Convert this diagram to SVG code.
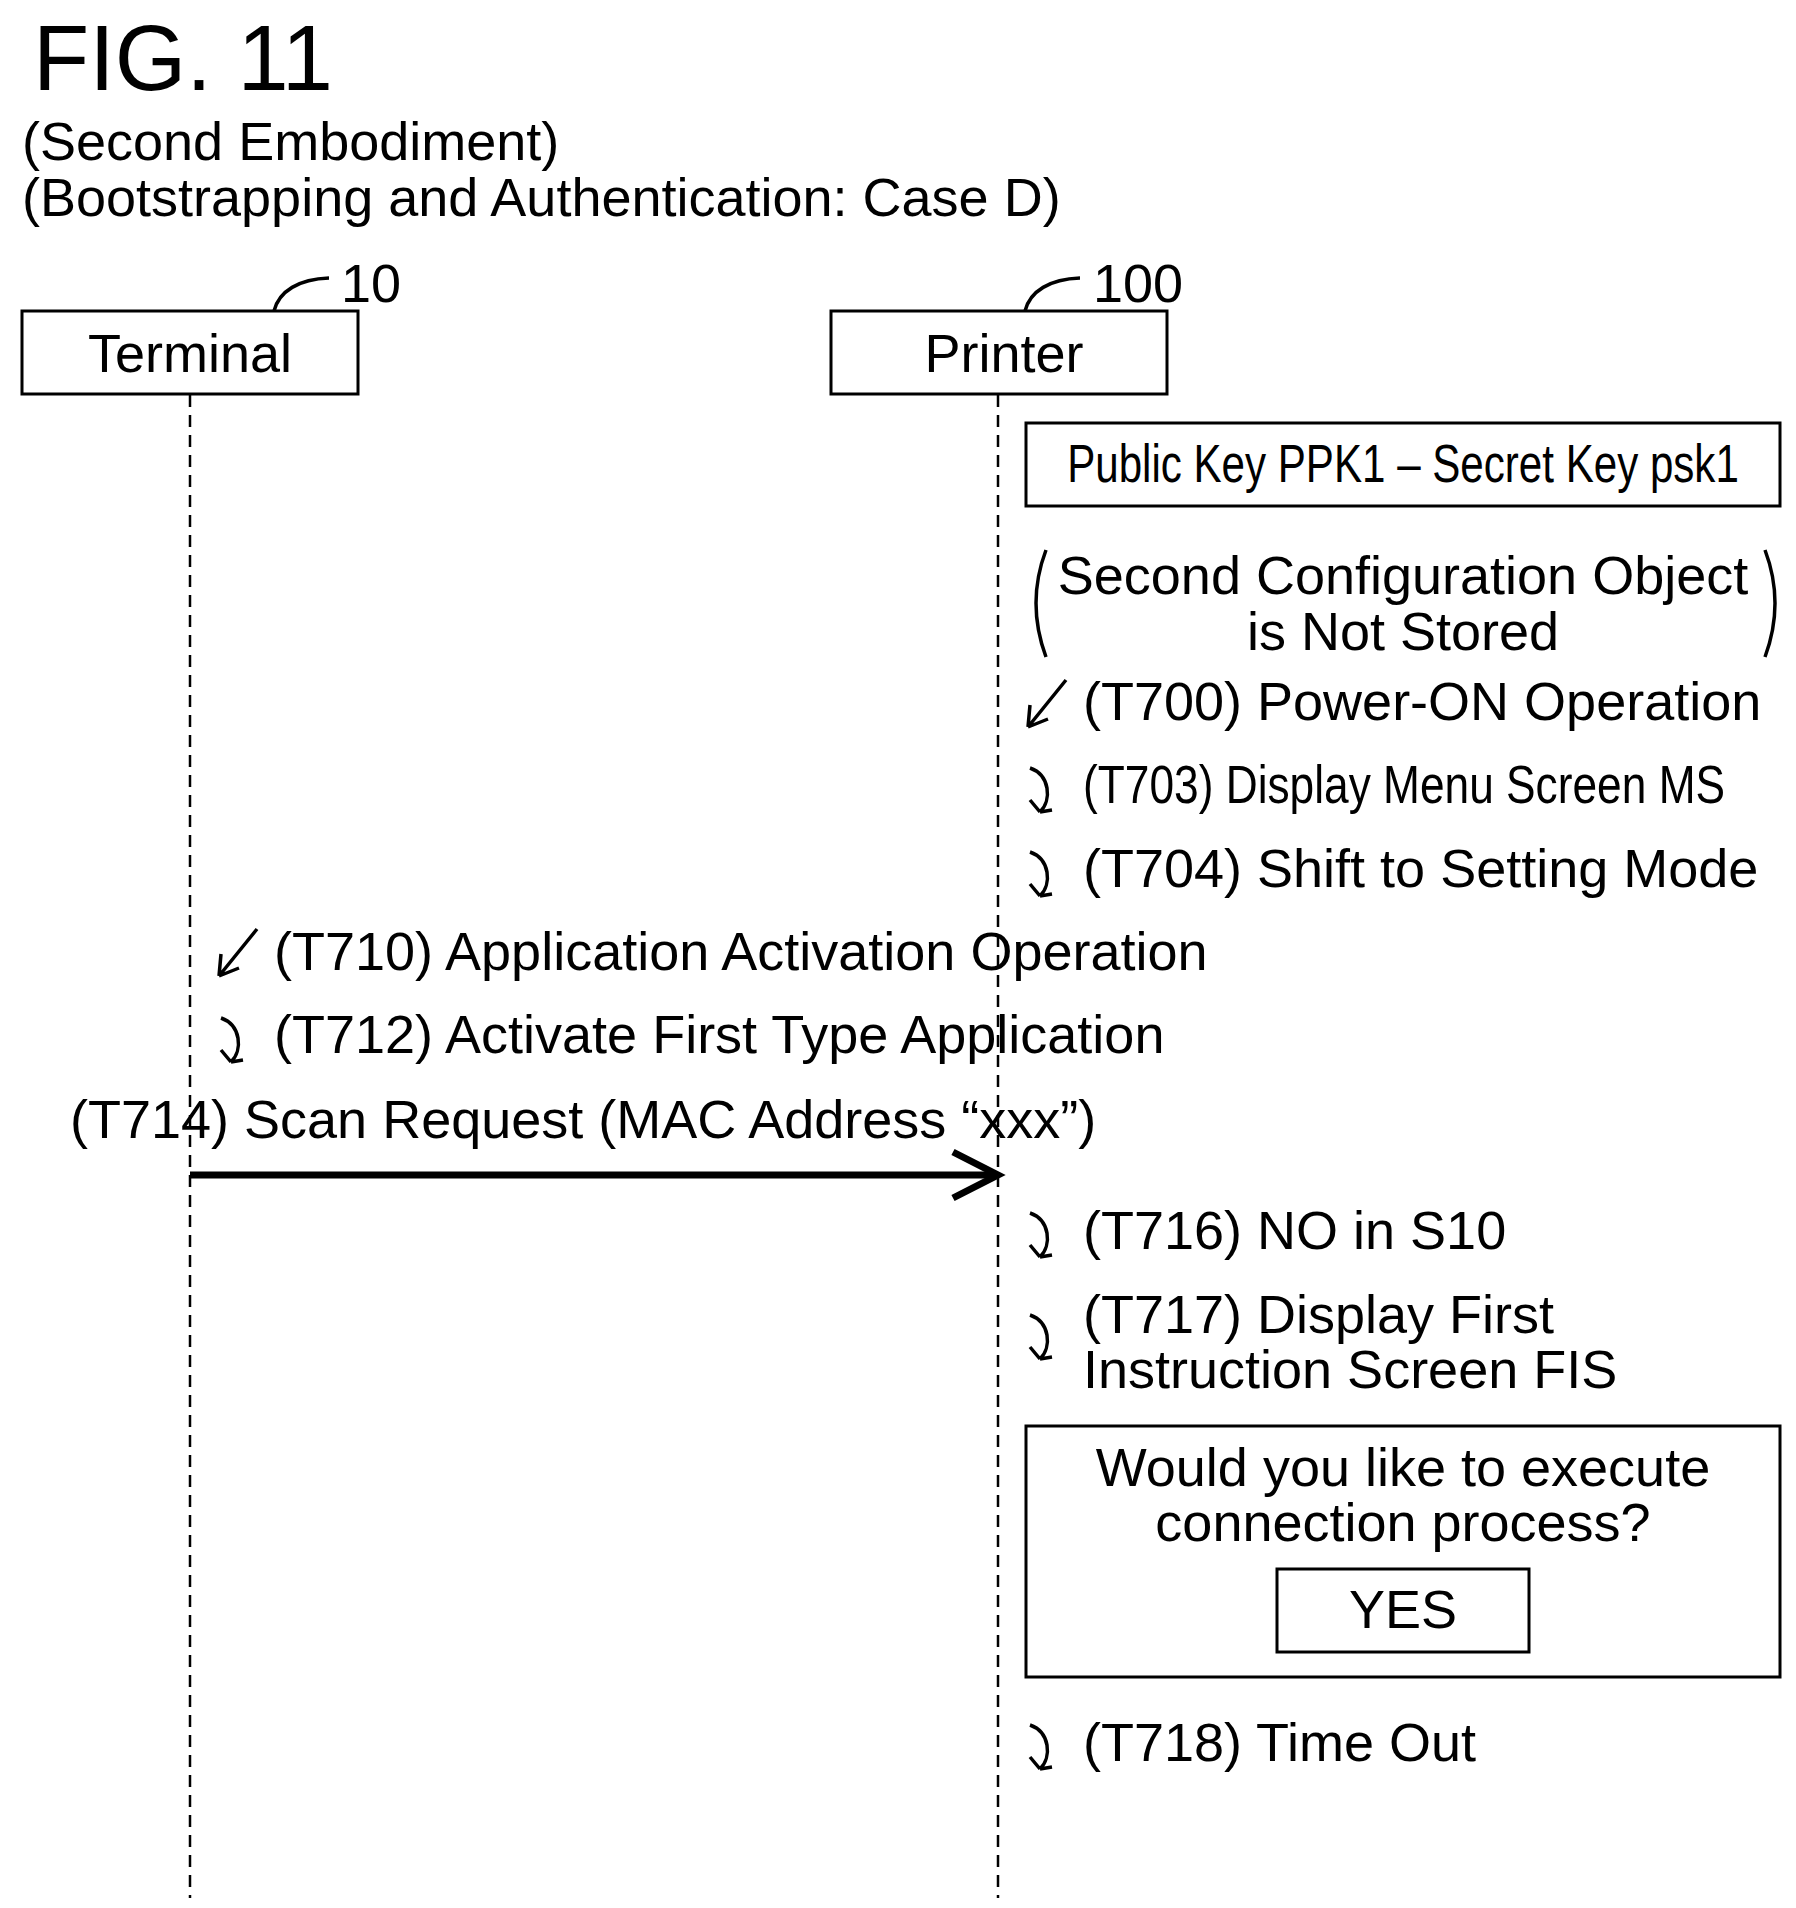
<svg xmlns="http://www.w3.org/2000/svg" width="1796" height="1908" viewBox="0 0 1796 1908">
<style>
text{font-family:"Liberation Sans",Arial,sans-serif;fill:#000}
.t{font-size:54px}
.box{fill:#fff;stroke:#000;stroke-width:3}
.life{stroke:#000;stroke-width:2.5;stroke-dasharray:12,8;fill:none}
.ln{stroke:#000;stroke-width:3.5;fill:none}
</style>
<rect width="1796" height="1908" fill="#fff"/>
<text x="33" y="90" font-size="92">FIG. 11</text>
<text x="22" y="160" class="t" font-size="55">(Second Embodiment)</text>
<text x="22" y="216" class="t" font-size="55">(Bootstrapping and Authentication: Case D)</text>
<g id="lifelines">
<line class="life" x1="190" y1="395" x2="190" y2="1898"/>
<line class="life" x1="998" y1="395" x2="998" y2="1898"/>
</g>
<g id="terminal">
<rect class="box" x="22" y="311" width="336" height="83"/>
<text x="190" y="372" class="t" text-anchor="middle">Terminal</text>
<path class="ln" stroke-width="2" d="M274,311 C279,291 299,279 329,278"/>
<text x="341" y="302" class="t">10</text>
</g>
<g id="printer">
<rect class="box" x="831" y="311" width="336" height="83"/>
<text x="1004" y="372" class="t" text-anchor="middle">Printer</text>
<path class="ln" stroke-width="2" d="M1025,311 C1030,291 1050,279 1080,278"/>
<text x="1093" y="302" class="t">100</text>
</g>
<g id="keys">
<rect class="box" x="1026" y="423" width="754" height="83"/>
<text transform="translate(1403,482) scale(0.78,1)" class="t" text-anchor="middle">Public Key PPK1 – Secret Key psk1</text>
</g>
<g id="notstored">
<path class="ln" stroke-width="2" d="M1046,550 Q1026,603 1046,657"/>
<path class="ln" stroke-width="2" d="M1765,550 Q1785,603 1765,657"/>
<text x="1403" y="594" class="t" text-anchor="middle">Second Configuration Object</text>
<text x="1403" y="650" class="t" text-anchor="middle">is Not Stored</text>
</g>
<g id="connectors">
<path class="ln" d="M1066,680 L1028,727 M1028,727 L1030,705 M1028,727 L1048,719"/>
<path class="ln" d="M257,929 L219,976 M219,976 L221,954 M219,976 L239,968"/>
<line x1="190" y1="1175" x2="996" y2="1175" stroke="#000" stroke-width="7"/>
<path d="M953,1152 L998,1175 L953,1198" fill="none" stroke="#000" stroke-width="7"/>
<g id="curls" class="ln">
<path d="M1030,768 C1050,775 1052,800 1040,812 M1040,812 L1030,800 M1040,812 L1052,810"/>
<path d="M1030,852 C1050,859 1052,884 1040,896 M1040,896 L1030,884 M1040,896 L1052,894"/>
<path d="M221,1018 C241,1025 243,1050 231,1062 M231,1062 L221,1050 M231,1062 L243,1060"/>
<path d="M1030,1213 C1050,1220 1052,1245 1040,1257 M1040,1257 L1030,1245 M1040,1257 L1052,1255"/>
<path d="M1030,1315 C1050,1322 1052,1347 1040,1359 M1040,1359 L1030,1347 M1040,1359 L1052,1357"/>
<path d="M1030,1725 C1050,1732 1052,1757 1040,1769 M1040,1769 L1030,1757 M1040,1769 L1052,1767"/>
</g>
</g>
<g id="labels">
<text x="1083" y="720" class="t">(T700) Power-ON Operation</text>
<text transform="translate(1083,803) scale(0.82,1)" class="t">(T703) Display Menu Screen MS</text>
<text x="1083" y="887" class="t">(T704) Shift to Setting Mode</text>
<text x="274" y="970" class="t">(T710) Application Activation Operation</text>
<text x="274" y="1053" class="t">(T712) Activate First Type Application</text>
<text x="70" y="1138" class="t">(T714) Scan Request (MAC Address “xxx”)</text>
<text x="1083" y="1249" class="t">(T716) NO in S10</text>
<text x="1083" y="1333" class="t">(T717) Display First</text>
<text x="1083" y="1388" class="t">Instruction Screen FIS</text>
<text x="1083" y="1761" class="t">(T718) Time Out</text>
</g>
<g id="dialog">
<rect class="box" x="1026" y="1426" width="754" height="251"/>
<text x="1403" y="1486" class="t" text-anchor="middle">Would you like to execute</text>
<text x="1403" y="1541" class="t" text-anchor="middle">connection process?</text>
<rect class="box" x="1277" y="1569" width="252" height="83"/>
<text x="1403" y="1628" class="t" text-anchor="middle">YES</text>
</g>
</svg>
